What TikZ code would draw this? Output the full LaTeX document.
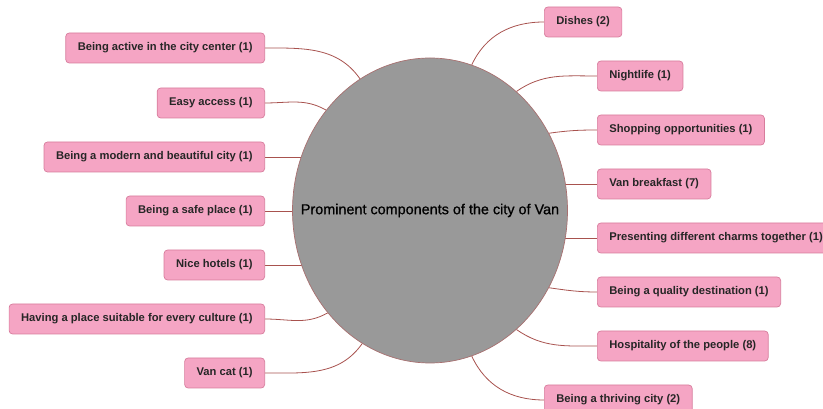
\documentclass[tikz,border=0pt]{standalone}
\usepackage{fontspec}
\setmainfont{Liberation Sans}
\newfontfamily\hubfont[FakeBold=0.8]{Liberation Sans}
\usetikzlibrary{shapes.geometric,backgrounds}
\definecolor{boxfill}{HTML}{F5A5C4}
\definecolor{boxline}{HTML}{D77C9C}
\definecolor{linkcol}{HTML}{A8524E}
\definecolor{hubfill}{HTML}{999999}
\definecolor{hubline}{HTML}{A87070}
\tikzset{
  item/.style={draw=boxline, fill=boxfill, rounded corners=3.5pt, line width=0.7pt,
    minimum height=30pt, inner xsep=12pt, inner ysep=0pt,
    font=\fontsize{11.2}{13}\selectfont\bfseries, text=black!85},
  hub/.style={ellipse, draw=hubline, fill=hubfill, line width=0.7pt,
    minimum width=275pt, minimum height=305pt, inner sep=0pt},
  hubtext/.style={inner sep=0pt, font=\hubfont\fontsize{14.4}{17}\selectfont, text=black},
  link/.style={draw=linkcol, line width=0.8pt}
}
\begin{document}
\begin{tikzpicture}[x=1pt,y=1pt]
\useasboundingbox (0,0) rectangle (823,409);

\node[hub] (c) at (430,198.5) {};
\node[hubtext] (ct) at (c.center) {Prominent components of the city of Van};

% left branches
\node[item, anchor=east] (l1) at (265,361) {Being active in the city center (1)};
\node[item, anchor=east] (l2) at (265,306) {Easy access (1)};
\node[item, anchor=east] (l3) at (265,252) {Being a modern and beautiful city (1)};
\node[item, anchor=east] (l4) at (265,198) {Being a safe place (1)};
\node[item, anchor=east] (l5) at (265,144) {Nice hotels (1)};
\node[item, anchor=east] (l6) at (265,90)  {Having a place suitable for every culture (1)};
\node[item, anchor=east] (l7) at (265,36)  {Van cat (1)};

% right branches
\node[item, anchor=west] (r1) at (544,387) {Dishes (2)};
\node[item, anchor=west] (r2) at (597,333) {Nightlife (1)};
\node[item, anchor=west] (r3) at (597,279) {Shopping opportunities (1)};
\node[item, anchor=west] (r4) at (597,225) {Van breakfast (7)};
\node[item, anchor=west] (r5) at (597,171) {Presenting different charms together (1)};
\node[item, anchor=west] (r6) at (597,117) {Being a quality destination (1)};
\node[item, anchor=west] (r7) at (597,63)  {Hospitality of the people (8)};
\node[item, anchor=west] (r8) at (544,9)   {Being a thriving city (2)};

% connectors run behind the central ellipse
\begin{scope}[on background layer]
\draw[link] (l1.east) to[out=0, in=125] (c.118);
\draw[link] (l2.east) to[out=0, in=150] (c.136);
\draw[link] (l3.east) -- (l3.east -| c.center);
\draw[link] (l4.east) -- (l4.east -| c.center);
\draw[link] (l5.east) -- (l5.east -| c.center);
\draw[link] (l6.east) to[out=0, in=210] (c.225);
\draw[link] (l7.east) to[out=0, in=235] (c.243);

\draw[link] (r1.west) to[out=180, in=65]  (c.74);
\draw[link] (r2.west) to[out=180, in=35]  (c.54);
\draw[link] (r3.west) to[out=180, in=8]   (c.33);
\draw[link] (r4.west) -- (r4.west -| c.center);
\draw[link] (r5.west) -- (r5.west -| c.center);
\draw[link] (r6.west) to[out=180, in=-8]  (c.-33);
\draw[link] (r7.west) to[out=180, in=-35] (c.-54);
\draw[link] (r8.west) to[out=180, in=-65] (c.-74);
\end{scope}
\end{tikzpicture}
\end{document}
